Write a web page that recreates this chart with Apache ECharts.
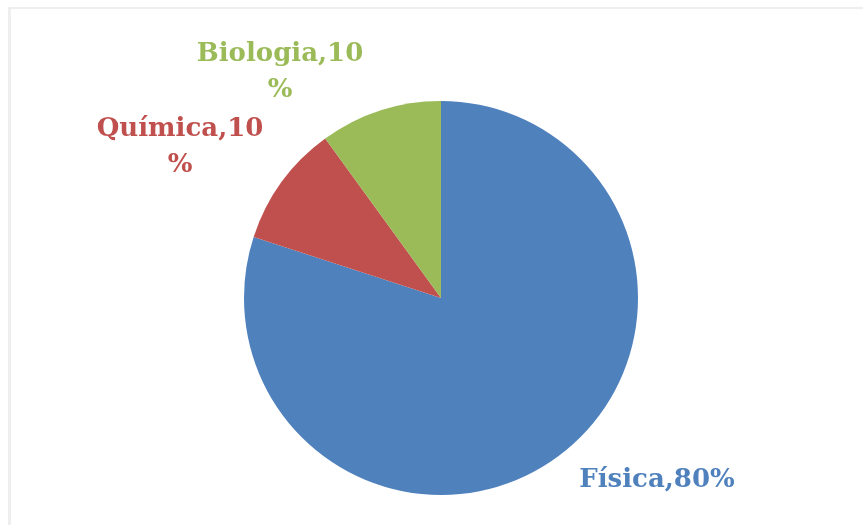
<!DOCTYPE html>
<html>
<head>
<meta charset="utf-8">
<script src="https://cdn.jsdelivr.net/npm/echarts@6/dist/echarts.min.js"></script>
<style>
  html, body { margin: 0; padding: 0; background: #fff; }
  #main { width: 863px; height: 525px; }
</style>
</head>
<body>
<div id="main"></div>
<script>
// materias e porcentagens
var categories = ['Física', 'Química', 'Biologia'];
var values = [80, 10, 10];
var colors = ['#4F81BD', '#C0504D', '#9BBB59'];
// label text per slice (as wrapped in the original)
var labelTexts = ['Física,80%', 'Química,10\n%', 'Biologia,10\n%'];
// label centre spots
var labelSpots = [[657, 480], [180, 147], [280, 72]];

var chart = echarts.init(document.getElementById('main'), null, { renderer: 'canvas' });

var data = categories.map(function (c, i) {
  return {
    name: c,
    value: values[i],
    itemStyle: { color: colors[i] },
    label: { color: colors[i], formatter: labelTexts[i] }
  };
});

var option = {
  backgroundColor: '#ffffff',
  animation: false,
  graphic: [
    { type: 'rect', shape: { x: 8, y: 7, width: 855, height: 2 }, style: { fill: '#eeeeee' } },
    { type: 'rect', shape: { x: 8, y: 7, width: 3, height: 518 }, style: { fill: '#eeeeee' } }
  ],
  series: [{
    type: 'pie',
    center: [441, 298],
    radius: 197,
    startAngle: 90,
    clockwise: true,
    label: {
      show: true,
      position: 'outside',
      fontFamily: 'DejaVu Serif',
      fontWeight: 'bold',
      fontSize: 26,
      lineHeight: 36,
      align: 'center'
    },
    labelLine: { show: false },
    labelLayout: function (p) {
      var s = labelSpots[p.dataIndex];
      return { x: s[0], y: s[1], align: 'center', verticalAlign: 'middle' };
    },
    data: data
  }]
};

chart.setOption(option);
</script>
</body>
</html>
